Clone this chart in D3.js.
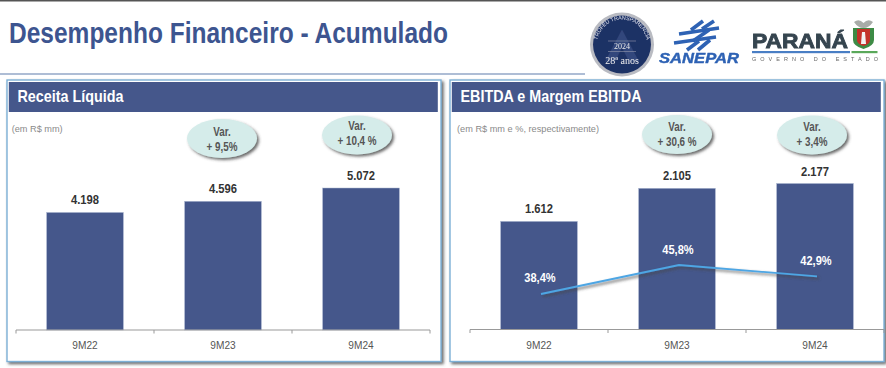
<!DOCTYPE html>
<html>
<head>
<meta charset="utf-8">
<script src="https://cdn.jsdelivr.net/npm/d3@7"></script>
<style>
  html, body { margin: 0; padding: 0; background: #fff; }
  svg { display: block; }
  text { font-family: "Liberation Sans", Arial, sans-serif; }
</style>
</head>
<body>
<div id="chart"></div>
<script>
const categories = ["9M22", "9M23", "9M24"];
const receita = [4198, 4596, 5072];
const receitaLabels = ["4.198", "4.596", "5.072"];
const receitaVar = ["+ 9,5%", "+ 10,4 %"];
const ebitda = [1612, 2105, 2177];
const ebitdaLabels = ["1.612", "2.105", "2.177"];
const ebitdaVar = ["+ 30,6 %", "+ 3,4%"];
const margem = [38.4, 45.8, 42.9];
const margemLabels = ["38,4%", "45,8%", "42,9%"];

const blue = "#45578b";

const svg = d3.select("#chart").append("svg")
  .attr("width", 886)
  .attr("height", 368);

const defs = svg.append("defs");
defs.append("filter").attr("id", "shadow")
  .attr("x", "-10%").attr("y", "-10%").attr("width", "125%").attr("height", "125%")
  .append("feDropShadow")
  .attr("dx", 2).attr("dy", 2).attr("stdDeviation", 1.5)
  .attr("flood-color", "#444").attr("flood-opacity", 0.8);
defs.append("filter").attr("id", "soft")
  .append("feGaussianBlur").attr("stdDeviation", 0.35);

// the reference type is a narrow Arial, squeeze the text sideways
function condense(sel, k) {
  sel.each(function () {
    const len = this.getComputedTextLength();
    d3.select(this)
      .attr("textLength", len * k)
      .attr("lengthAdjust", "spacingAndGlyphs");
  });
}

// top of the slide
svg.append("rect").attr("width", 886).attr("height", 1.5).attr("fill", "#555");
svg.append("text")
  .attr("x", 9).attr("y", 43)
  .attr("font-size", 29).attr("font-weight", "bold")
  .attr("textLength", 439).attr("lengthAdjust", "spacingAndGlyphs")
  .attr("fill", "#3d5590")
  .text("Desempenho Financeiro - Acumulado");
svg.append("line")
  .attr("x1", 0).attr("x2", 585).attr("y1", 74).attr("y2", 74)
  .attr("stroke", "#5f7cab").attr("stroke-width", 1.2);

function drawPanel(opts) {
  const g = svg.append("g");

  g.append("rect")
    .attr("x", opts.left).attr("y", 80)
    .attr("width", opts.width).attr("height", 281.5)
    .attr("fill", "#fff").attr("stroke", "#7db0d6").attr("stroke-width", 1.4)
    .attr("filter", "url(#shadow)");

  g.append("rect")
    .attr("x", opts.left + 1.8).attr("y", 82)
    .attr("width", opts.width - 5).attr("height", 30)
    .attr("fill", blue);
  g.append("text")
    .attr("x", opts.left + 10.5).attr("y", 102)
    .attr("font-size", 17).attr("font-weight", "bold")
    .attr("textLength", opts.titleWidth).attr("lengthAdjust", "spacingAndGlyphs")
    .attr("fill", "#fff")
    .text(opts.title);
  g.append("text")
    .attr("x", opts.left + opts.unitX).attr("y", 132)
    .attr("font-size", 9.5).attr("fill", "#8a8a8a")
    .attr("textLength", opts.unitWidth).attr("lengthAdjust", "spacingAndGlyphs")
    .text(opts.unit);

  const x = d3.scaleBand()
    .domain(categories)
    .range(opts.xRange)
    .paddingInner(0.444)
    .paddingOuter(0.222);

  const y = d3.scaleLinear()
    .domain([0, opts.yMax])
    .range([opts.base, opts.base - 146]);

  g.selectAll(".bar")
    .data(opts.values)
    .join("rect")
    .attr("class", "bar")
    .attr("x", (d, i) => x(categories[i]))
    .attr("y", d => y(d))
    .attr("width", x.bandwidth())
    .attr("height", d => y(0) - y(d))
    .attr("fill", blue)
    .attr("stroke", "#aab6d0").attr("stroke-width", 0.5);

  g.selectAll(".value")
    .data(opts.values)
    .join("text")
    .attr("class", "value")
    .attr("x", (d, i) => x(categories[i]) + x.bandwidth() / 2)
    .attr("y", d => y(d) - 8)
    .attr("text-anchor", "middle")
    .attr("font-size", 13.5).attr("font-weight", "bold").attr("fill", "#333")
    .text((d, i) => opts.labels[i])
    .call(condense, 0.83);

  // axis: labels come from the band scale, ticks sit on the band edges
  const axis = g.append("g")
    .attr("transform", `translate(0,${opts.base})`)
    .call(d3.axisBottom(x).tickSize(0).tickPadding(11.5));
  axis.select(".domain").remove();
  axis.selectAll("text")
    .attr("font-family", null)
    .attr("font-size", 11).attr("fill", "#555")
    .call(condense, 0.92);
  axis.append("line")
    .attr("x1", opts.xRange[0]).attr("x2", opts.xRange[1])
    .attr("stroke", "#999").attr("stroke-width", 1);
  d3.range(opts.xRange[0], opts.xRange[1] + 1, x.step()).forEach(t => {
    axis.append("line")
      .attr("x1", t).attr("x2", t).attr("y1", 0).attr("y2", 3.5)
      .attr("stroke", "#999").attr("stroke-width", 1);
  });

  opts.vars.forEach((v, i) => {
    const [bx, by, dy] = opts.bubbles[i];
    const b = g.append("g").attr("transform", `translate(${bx},${by})`);
    b.append("ellipse")
      .attr("rx", 35).attr("ry", 19.5)
      .attr("fill", "#d5ecea")
      .attr("filter", "url(#shadow)");
    b.append("text")
      .attr("text-anchor", "middle").attr("y", dy)
      .attr("font-size", 12).attr("font-weight", "bold").attr("fill", "#555")
      .text("Var.")
      .call(condense, 0.82);
    b.append("text")
      .attr("text-anchor", "middle").attr("y", dy + 15)
      .attr("font-size", 12).attr("font-weight", "bold").attr("fill", "#555")
      .text(v)
      .call(condense, 0.82);
  });

  return { g, x };
}

drawPanel({
  left: 7, width: 434,
  title: "Receita Líquida", titleWidth: 106,
  unit: "(em R$ mm)", unitX: 4.7, unitWidth: 51,
  xRange: [16, 430], base: 330, yMax: 5072 * 146 / 142,
  values: receita, labels: receitaLabels, vars: receitaVar,
  bubbles: [[222, 138.5, -2.5], [357, 135, -5]]
});

const right = drawPanel({
  left: 450, width: 434,
  title: "EBITDA e Margem EBITDA", titleWidth: 181,
  unit: "(em R$ mm e %, respectivamente)", unitX: 7, unitWidth: 142,
  xRange: [470, 884], base: 329.5, yMax: 2177,
  values: ebitda, labels: ebitdaLabels, vars: ebitdaVar,
  bubbles: [[677, 134.5, -4], [812, 135, -4]]
});

// margin line over the EBITDA bars
const yMargem = d3.scaleLinear().domain([38.4, 45.8]).range([294, 265]);
const marginX = (d, i) => right.x(categories[i]) + right.x.bandwidth() / 2 + 2;

right.g.append("path")
  .datum(margem)
  .attr("d", d3.line().x(marginX).y(d => yMargem(d)))
  .attr("fill", "none")
  .attr("stroke", "#4ea6e4").attr("stroke-width", 1.8)
  .attr("filter", "url(#shadow)");

right.g.selectAll(".margem")
  .data(margem)
  .join("text")
  .attr("class", "margem")
  .attr("x", (d, i) => marginX(d, i) - 1)
  .attr("y", (d, i) => yMargem(d) - (i === 0 ? 12.5 : 11))
  .attr("text-anchor", "middle")
  .attr("font-size", 13).attr("font-weight", "bold").attr("fill", "#fff")
  .text((d, i) => margemLabels[i])
  .call(condense, 0.85);

// logos
const medal = svg.append("g").attr("transform", "translate(622,44.5)").attr("filter", "url(#soft)");
medal.append("circle").attr("r", 32).attr("fill", "#b9bbc2");
medal.append("circle").attr("r", 29).attr("fill", "#1f3265");
medal.append("path").attr("d", "M-17,17L0,-15L17,17L7,17L0,3L-7,17Z").attr("fill", "#31467b");
medal.append("path").attr("id", "medalArc")
  .attr("d", "M-24.5,5A25,25 0 1 1 24.5,5").attr("fill", "none");
medal.append("text")
  .attr("font-size", 5.4).attr("fill", "#dfe3ee")
  .append("textPath").attr("href", "#medalArc")
  .attr("startOffset", "50%").attr("text-anchor", "middle")
  .text("TROFÉU TRANSPARÊNCIA");
medal.append("text").attr("text-anchor", "middle").attr("y", 4)
  .style("font-family", "'Liberation Serif', serif")
  .attr("font-size", 8).attr("fill", "#e8e8e8").text("2024");
medal.append("line").attr("x1", -14).attr("x2", 14).attr("y1", -3.5).attr("y2", -3.5)
  .attr("stroke", "#aab").attr("stroke-width", 0.5);
medal.append("line").attr("x1", -14).attr("x2", 14).attr("y1", 7).attr("y2", 7)
  .attr("stroke", "#aab").attr("stroke-width", 0.5);
medal.append("text").attr("text-anchor", "middle").attr("y", 19)
  .style("font-family", "'Liberation Serif', serif")
  .attr("font-size", 10).attr("fill", "#f0f0f0").text("28ª anos");

const sanepar = svg.append("g").attr("filter", "url(#soft)");
sanepar.selectAll("path")
  .data([
    "M679,34L719,28", "M674,43L716,37",
    "M691,30L703,21", "M702,29L714,21",
    "M687,50L699,41", "M698,50L710,40",
    "M693,41L709,30"
  ])
  .join("path")
  .attr("d", d => d)
  .attr("stroke", "#2d62b4").attr("stroke-width", 3.6).attr("fill", "none");
sanepar.append("text")
  .attr("x", 659).attr("y", 63)
  .attr("font-size", 15).attr("font-weight", "bold").attr("font-style", "italic")
  .attr("textLength", 80).attr("lengthAdjust", "spacingAndGlyphs")
  .attr("fill", "#2d62b4").attr("stroke", "#2d62b4").attr("stroke-width", 0.4)
  .text("SANEPAR");

const parana = svg.append("g").attr("filter", "url(#soft)");
parana.append("text")
  .attr("x", 752).attr("y", 48)
  .attr("font-size", 20).attr("font-weight", "bold")
  .attr("textLength", 96).attr("lengthAdjust", "spacingAndGlyphs")
  .attr("fill", "#35444f").attr("stroke", "#35444f").attr("stroke-width", 0.8)
  .text("PARANÁ");
parana.append("rect").attr("x", 752).attr("y", 51).attr("width", 98).attr("height", 2.2).attr("fill", "#4a7ec4");
parana.append("rect").attr("x", 851.5).attr("y", 51).attr("width", 26).attr("height", 2.2).attr("fill", "#5aa85a");
parana.append("text")
  .attr("x", 752).attr("y", 60.5)
  .attr("font-size", 5.5)
  .attr("textLength", 126).attr("fill", "#666")
  .text("GOVERNO DO ESTADO");
parana.append("path").attr("d", "M853,28L874,28L874,40Q874,46 863.5,49Q853,46 853,40Z").attr("fill", "#3d8b45");
parana.append("path").attr("d", "M857,29L870,29L870,40Q870,44 863.5,46Q857,44 857,40Z").attr("fill", "#c4302b");
parana.append("path").attr("d", "M862,32L865,32L866,44L861,44Z").attr("fill", "#f2f2f2");
parana.append("path").attr("d", "M854,22Q859,18 863.5,23Q868,18 873,22Q869,28 863.5,28Q858,28 854,22Z").attr("fill", "#a8aca8");
</script>
</body>
</html>
